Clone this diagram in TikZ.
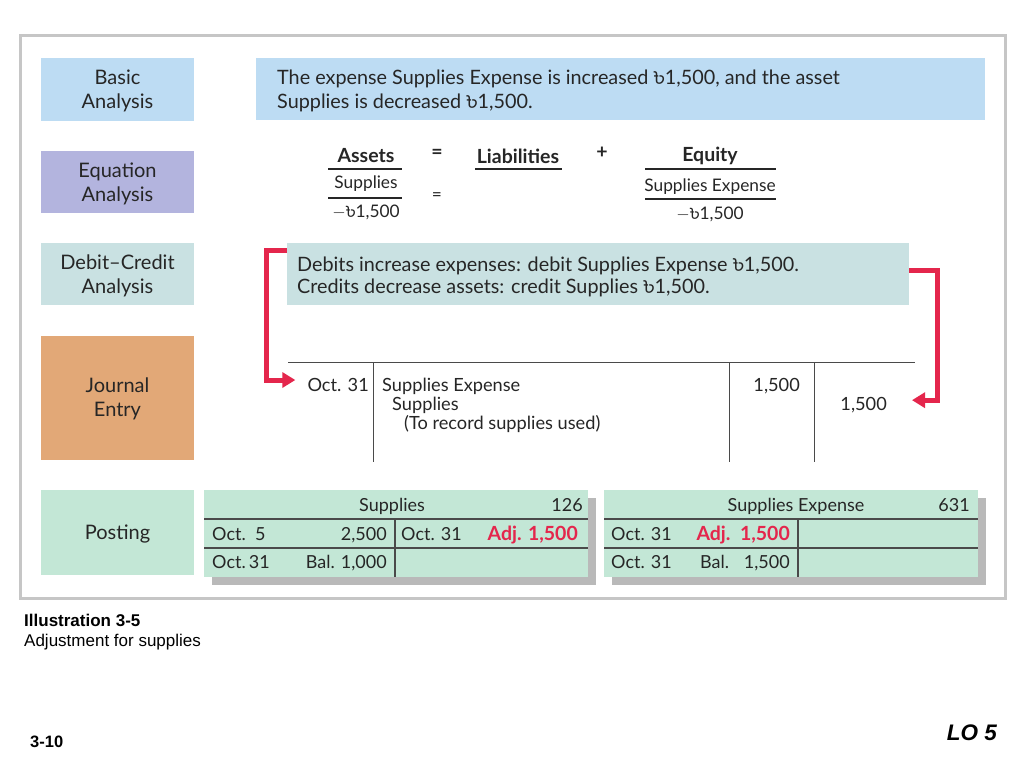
\documentclass[tikz,border=0pt]{standalone}
\usepackage{fontspec}
\setmainfont{Lato}
\newfontfamily\bnfont[Script=Bengali]{Hind Siliguri}
\newfontfamily\arialfont{Liberation Sans}
\usetikzlibrary{arrows.meta,calc}
\newcommand\tk{{\bnfont ৳}}
\definecolor{framegray}{HTML}{C6C6C6}
\definecolor{basicblue}{HTML}{BDDCF3}
\definecolor{eqlav}{HTML}{B3B4DE}
\definecolor{dcteal}{HTML}{C9E1E2}
\definecolor{jorange}{HTML}{E2A877}
\definecolor{pmint}{HTML}{C3E7D6}
\definecolor{adjred}{HTML}{E4264C}
\definecolor{shadowgray}{HTML}{B9B9B9}
\definecolor{linegray}{HTML}{4A4A4A}
\begin{document}
\begin{tikzpicture}[x=1pt,y=-1pt,
  lbox/.style={inner sep=0, minimum width=153},
  lbl/.style={inner sep=0, align=center, font=\fontsize{20}{24}\selectfont, text=black!85},
  txt/.style={inner sep=0, font=\fontsize{19.8}{24}\selectfont, text=black!85},
  eqb/.style={inner sep=0, font=\bfseries\fontsize{19.5}{22}\selectfont, text=black!85},
  eqt/.style={inner sep=0, font=\fontsize{17.3}{20}\selectfont, text=black!85},
  jt/.style={inner sep=0, font=\fontsize{18.2}{20}\selectfont, text=black!85},
  pt/.style={inner sep=0, font=\fontsize{18}{20}\selectfont, text=black!85},
  adj/.style={inner sep=0, font=\bfseries\fontsize{19.5}{20}\selectfont, text=adjred},
  eqline/.style={line width=2.2, black!85},
  jline/.style={line width=1, linegray},
  tline/.style={line width=1.2, linegray},
  redarr/.style={line width=5, adjred, -{Triangle[length=13pt,width=15pt]}},
  captxt/.style={inner sep=0, font=\arialfont\fontsize{17}{20}\selectfont, anchor=west}
]
\useasboundingbox (0,0) rectangle (1024,768);
\fill[white] (0,0) rectangle (1024,768);
\draw[framegray, line width=3] (20,36) rectangle (1005,598);

% left labels
\node[lbox, fill=basicblue, minimum height=63] (ba) at (117.5,89.5) {};
\node[lbl] (bat) at (117.5,91) {Basic\\Analysis};
\node[lbox, fill=eqlav, minimum height=62] (ea) at (117.5,182) {};
\node[lbl] (eat) at (117.5,184) {Equation\\Analysis};
\node[lbox, fill=dcteal, minimum height=62] (dca) at (117.5,274) {};
\node[lbl] (dcat) at (117.5,276) {Debit--Credit\\Analysis};
\node[lbox, fill=jorange, minimum height=124] (je) at (117.5,398) {};
\node[lbl] (jet) at (117.5,399) {Journal\\Entry};
\node[lbox, fill=pmint, minimum height=85] (po) at (117.5,532.5) {};
\node[lbl] (pot) at (117.5,534) {Posting};

% basic analysis
\node[fill=basicblue, inner sep=0, minimum width=729, minimum height=62, anchor=north west] (babox) at (256,58) {};
\node[txt, anchor=west, align=left] (batxt) at (277,91) {The expense Supplies Expense is increased \tk1,500, and the asset\\Supplies is decreased \tk1,500.};

% equation analysis
\node[eqb] (assets) at (366,156) {Assets};
\draw[eqline] (328,169) -- (402,169);
\node[eqt] (asup) at (366,184) {Supplies};
\draw[eqline] (328,198) -- (402,198);
\node[eqt] (aamt) at (366,212) {$-$\tk1,500};
\node[eqb] (eq1) at (437,154) {=};
\node[eqt] (eq2) at (437,197) {=};
\node[eqb] (liab) at (518,156) {Liabilities};
\draw[eqline] (475,169) -- (562,169);
\node[eqb] (plus) at (602,153) {+};
\node[eqb] (equity) at (710,156) {Equity};
\draw[eqline] (645,169) -- (776,169);
\node[eqt] (esup) at (710,187) {Supplies Expense};
\draw[eqline] (645,199) -- (776,199);
\node[eqt] (eamt) at (710,214) {$-$\tk1,500};

% debit credit
\node[fill=dcteal, inner sep=0, minimum width=622, minimum height=62, anchor=north west] (dc) at (287,243) {};
\node[txt, anchor=west, align=left, font=\fontsize{19.8}{21.5}\selectfont] (dctxt) at (297,277) {Debits increase expenses: debit Supplies Expense \tk1,500.\\Credits decrease assets: credit Supplies \tk1,500.};

% journal
\draw[jline] (288,362) -- (915,362);
\draw[jline] (373,362) -- (373,462);
\draw[jline] (729,362) -- (729,462);
\draw[jline] (814,362) -- (814,462);
\node[jt, anchor=mid east] (jdate) at (369,389) {Oct. 31};
\node[jt, anchor=mid west] (jdeb) at (382,389) {Supplies Expense};
\node[jt, anchor=mid west] (jcred) at (392,408) {Supplies};
\node[jt, anchor=mid west] (jexp) at (404,427) {(To record supplies used)};
\node[jt, anchor=mid east] (jdr) at (800,389) {1,500};
\node[jt, anchor=mid east] (jcr) at (887,408) {1,500};

% red arrows
\draw[redarr] ($(dc.north west)+(0,7)$) -- ++(-21,0) |- ($(jdate.west)+(-12,-5)$);
\draw[redarr] ($(dc.north east)+(0,27)$) -- ++(28,0) |- ($(jcr.east)+(25,-5)$);

% posting: Supplies
\fill[shadowgray] (212,498) rectangle (596,585);
\node[fill=pmint, inner sep=0, minimum width=384, minimum height=87, anchor=north west] (ta1) at (204,490) {};
\draw[tline] (204,519) -- (588,519);
\draw[tline] (204,548) -- (588,548);
\draw[tline] (395,519) -- (395,577);
\node[pt, anchor=mid] (ta1h) at (392,509) {Supplies};
\node[pt, anchor=mid east] (ta1n) at (583,509) {126};
\node[pt, anchor=mid west] (ta1d1) at (212,538) {Oct.\ \ 5};
\node[pt, anchor=mid east] (ta1a1) at (387,538) {2,500};
\node[pt, anchor=mid west] (ta1d2) at (401,538) {Oct. 31};
\node[adj, anchor=mid east] (ta1a2) at (578,538) {Adj. 1,500};
\node[pt, anchor=mid west] (ta1d3) at (212,566) {Oct.\,31};
\node[pt, anchor=mid east] (ta1a3) at (387,566) {Bal. 1,000};

% posting: Supplies Expense
\fill[shadowgray] (612,498) rectangle (986,585);
\node[fill=pmint, inner sep=0, minimum width=374, minimum height=87, anchor=north west] (ta2) at (604,490) {};
\draw[tline] (604,519) -- (978,519);
\draw[tline] (604,548) -- (978,548);
\draw[tline] (798,519) -- (798,577);
\node[pt, anchor=mid] (ta2h) at (796,509) {Supplies Expense};
\node[pt, anchor=mid east] (ta2n) at (970,509) {631};
\node[pt, anchor=mid west] (ta2d1) at (611,538) {Oct. 31};
\node[adj, anchor=mid east] (ta2a1) at (790,538) {Adj.\ \ 1,500};
\node[pt, anchor=mid west] (ta2d2) at (611,566) {Oct. 31};
\node[pt, anchor=mid west] (ta2b) at (700,566) {Bal.};
\node[pt, anchor=mid east] (ta2a2) at (790,566) {1,500};

% captions
\node[captxt, font=\arialfont\bfseries\fontsize{17}{20}\selectfont] (ill) at (24,620) {Illustration 3-5};
\node[captxt] (illsub) at (24,642) {Adjustment for supplies};
\node[captxt, font=\arialfont\bfseries\fontsize{16.5}{20}\selectfont] (pg) at (30,742) {3-10};
\node[inner sep=0, anchor=east, font=\arialfont\bfseries\itshape\fontsize{22.5}{24}\selectfont] (lo) at (997,733) {LO 5};
\end{tikzpicture}
\end{document}
